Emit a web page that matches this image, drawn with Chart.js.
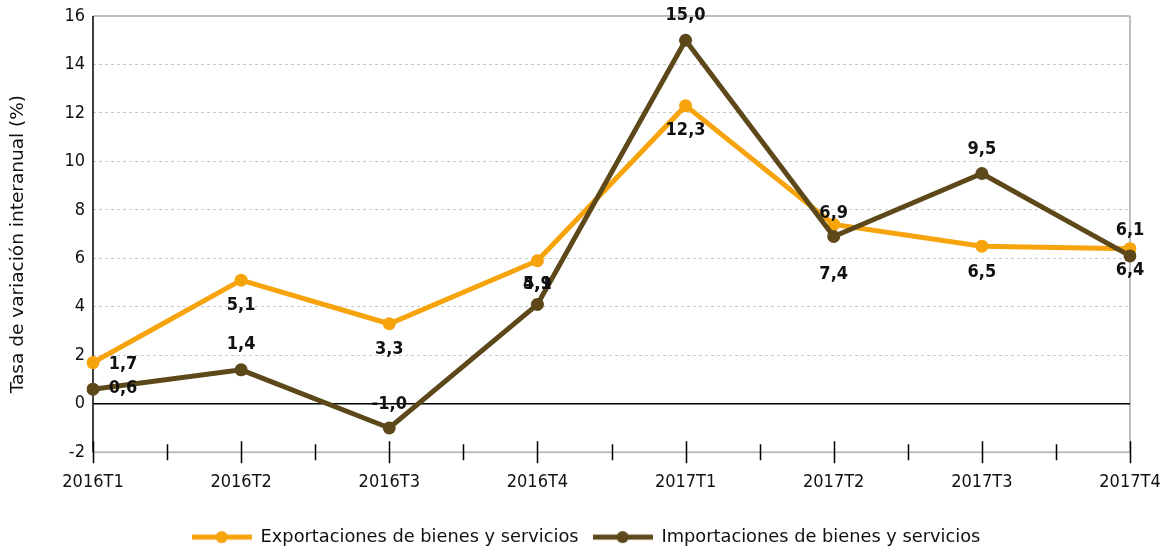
<!DOCTYPE html>
<html>
<head>
<meta charset="utf-8">
<script src="https://cdn.jsdelivr.net/npm/chart.js@4.4.0/dist/chart.umd.min.js"></script>
<style>
    html, body { margin: 0; padding: 0; background: #fff; overflow: hidden; }
    #wrap { width: 1172px; height: 552px; }
    #grafico { display: block; }
</style>
</head>
<body>
<div id="wrap"><canvas id="grafico" width="1172" height="552"></canvas></div>
<script>
// Datos
const trimestres = ['2016T1', '2016T2', '2016T3', '2016T4', '2017T1', '2017T2', '2017T3', '2017T4'];
const exportaciones = [1.7, 5.1, 3.3, 5.9, 12.3, 7.4, 6.5, 6.4];
const importaciones = [0.6, 1.4, -1.0, 4.1, 15.0, 6.9, 9.5, 6.1];
const ejeYMin = -2;
const ejeYMax = 16;
const ejeYPaso = 2;
const tituloY = 'Tasa de variación interanual (%)';

const FUENTE_EST = '"DejaVu Sans Condensed", "DejaVu Sans", sans-serif';
const FUENTE = '"DejaVu Sans", sans-serif';
const NARANJA = '#F6A30C';
const MARRON = '#5C4819';

// Desplazamiento de las etiquetas de valor (px)
const despExport = [[30, 2], [0, 25], [0, 26], [0, 24], [0, 25], [0, 50], [0, 26], [0, 22]];
const despImport = [[30, -1], [0, -25], [0, -24], [0, -20], [0, -25], [0, -23], [0, -24], [0, -26]];

function formato(v) {
    return v.toFixed(1).replace('.', ',');
}

// Muestra de leyenda: linea con punto
function muestraLeyenda(color) {
    const c = document.createElement('canvas');
    c.width = 60;
    c.height = 14;
    const g = c.getContext('2d');
    g.strokeStyle = color;
    g.lineWidth = 5;
    g.beginPath();
    g.moveTo(0, 7);
    g.lineTo(60, 7);
    g.stroke();
    g.fillStyle = color;
    g.beginPath();
    g.arc(30, 7, 6, 0, Math.PI * 2);
    g.fill();
    return c;
}
const muestras = [muestraLeyenda(NARANJA), muestraLeyenda(MARRON)];

// Lineas especiales, marcas del eje X y titulo del eje Y
const decoracionEjes = {
    id: 'decoracionEjes',
    beforeDatasetsDraw(chart) {
        const ctx = chart.ctx;
        const x = chart.scales.x;
        const y = chart.scales.y;
        const a = chart.chartArea;
        ctx.save();
        ctx.strokeStyle = '#BDBDBD';
        ctx.lineWidth = 2;
        ctx.beginPath();
        ctx.moveTo(a.left, y.getPixelForValue(ejeYMax));
        ctx.lineTo(a.right, y.getPixelForValue(ejeYMax));
        ctx.moveTo(a.right, a.top);
        ctx.lineTo(a.right, a.bottom);
        ctx.moveTo(a.left, y.getPixelForValue(ejeYMin));
        ctx.lineTo(a.right, y.getPixelForValue(ejeYMin));
        ctx.stroke();
        ctx.strokeStyle = '#000';
        ctx.lineWidth = 1.5;
        ctx.beginPath();
        ctx.moveTo(a.left, y.getPixelForValue(0));
        ctx.lineTo(a.right, y.getPixelForValue(0));
        ctx.stroke();
        ctx.beginPath();
        ctx.moveTo(a.left, a.top);
        ctx.lineTo(a.left, a.bottom);
        ctx.stroke();
        const base = a.bottom;
        ctx.beginPath();
        for (let i = 0; i < trimestres.length; i++) {
            const px = Math.round(x.getPixelForValue(i)) + 0.5;
            ctx.moveTo(px, base - 11);
            ctx.lineTo(px, base + 11);
            if (i < trimestres.length - 1) {
                const pm = Math.round((x.getPixelForValue(i) + x.getPixelForValue(i + 1)) / 2) + 0.5;
                ctx.moveTo(pm, base - 8);
                ctx.lineTo(pm, base + 8);
            }
        }
        ctx.stroke();
        // titulo del eje Y
        ctx.translate(18, (a.top + a.bottom) / 2 + 10);
        ctx.rotate(-Math.PI / 2);
        ctx.font = '18.5px ' + FUENTE;
        ctx.fillStyle = '#111';
        ctx.textAlign = 'center';
        ctx.textBaseline = 'middle';
        ctx.fillText(tituloY, 0, 0);
        ctx.restore();
    }
};

// Etiquetas de valor
const etiquetasValor = {
    id: 'etiquetasValor',
    afterDatasetsDraw(chart) {
        const ctx = chart.ctx;
        ctx.save();
        ctx.font = 'bold 18px ' + FUENTE_EST;
        ctx.fillStyle = '#111';
        ctx.textAlign = 'center';
        ctx.textBaseline = 'middle';
        chart.data.datasets.forEach((ds, i) => {
            const meta = chart.getDatasetMeta(i);
            meta.data.forEach((pt, j) => {
                const d = ds.desplazamientos[j];
                ctx.fillText(formato(ds.data[j]), pt.x + d[0], pt.y + d[1]);
            });
        });
        ctx.restore();
    }
};

const ctx = document.getElementById('grafico').getContext('2d');
new Chart(ctx, {
    type: 'line',
    data: {
        labels: trimestres,
        datasets: [{
            label: 'Exportaciones de bienes y servicios',
            data: exportaciones,
            borderColor: NARANJA,
            backgroundColor: NARANJA,
            borderWidth: 5,
            pointRadius: 6.5,
            pointBorderWidth: 0,
            pointBackgroundColor: NARANJA,
            tension: 0,
            order: 2,
            desplazamientos: despExport
        }, {
            label: 'Importaciones de bienes y servicios',
            data: importaciones,
            borderColor: MARRON,
            backgroundColor: MARRON,
            borderWidth: 5,
            pointRadius: 6.5,
            pointBorderWidth: 0,
            pointBackgroundColor: MARRON,
            tension: 0,
            order: 1,
            desplazamientos: despImport
        }]
    },
    options: {
        responsive: false,
        animation: false,
        layout: {
            padding: { left: 0, right: 0, top: 0, bottom: -4 }
        },
        scales: {
            x: {
                offset: false,
                grid: { display: true, color: 'transparent', drawTicks: false },
                border: { display: false },
                ticks: {
                    autoSkip: false,
                    maxRotation: 0,
                    padding: 19,
                    color: '#111',
                    font: { family: FUENTE_EST, size: 18 }
                },
                afterFit: function(scale) {
                    scale.height = 62;
                    scale.paddingLeft = 0;
                    scale.paddingRight = 42;
                }
            },
            y: {
                min: ejeYMin,
                max: ejeYMax,
                ticks: {
                    stepSize: ejeYPaso,
                    padding: 8,
                    color: '#111',
                    font: { family: FUENTE_EST, size: 18 }
                },
                grid: {
                    color: function(c) {
                        const v = c.tick.value;
                        return (v === 0 || v === ejeYMin || v === ejeYMax) ? 'transparent' : '#C8C8C8';
                    },
                    lineWidth: 1,
                    drawTicks: false
                },
                border: { display: false, dash: [3, 3] },
                afterFit: function(scale) {
                    scale.width = 93;
                    scale.paddingTop = 16;
                    scale.paddingBottom = 0;
                }
            }
        },
        plugins: {
            legend: {
                position: 'bottom',
                labels: {
                    usePointStyle: true,
                    pointStyleWidth: 60,
                    boxHeight: 14,
                    padding: 14,
                    color: '#111',
                    font: { family: FUENTE, size: 17.8 },
                    generateLabels: function(chart) {
                        const items = Chart.defaults.plugins.legend.labels.generateLabels(chart);
                        items.forEach(it => { it.pointStyle = muestras[it.datasetIndex]; });
                        return items.sort((a, b) => a.datasetIndex - b.datasetIndex);
                    }
                }
            },
            tooltip: { enabled: false }
        }
    },
    plugins: [decoracionEjes, etiquetasValor]
});
</script>
</body>
</html>
